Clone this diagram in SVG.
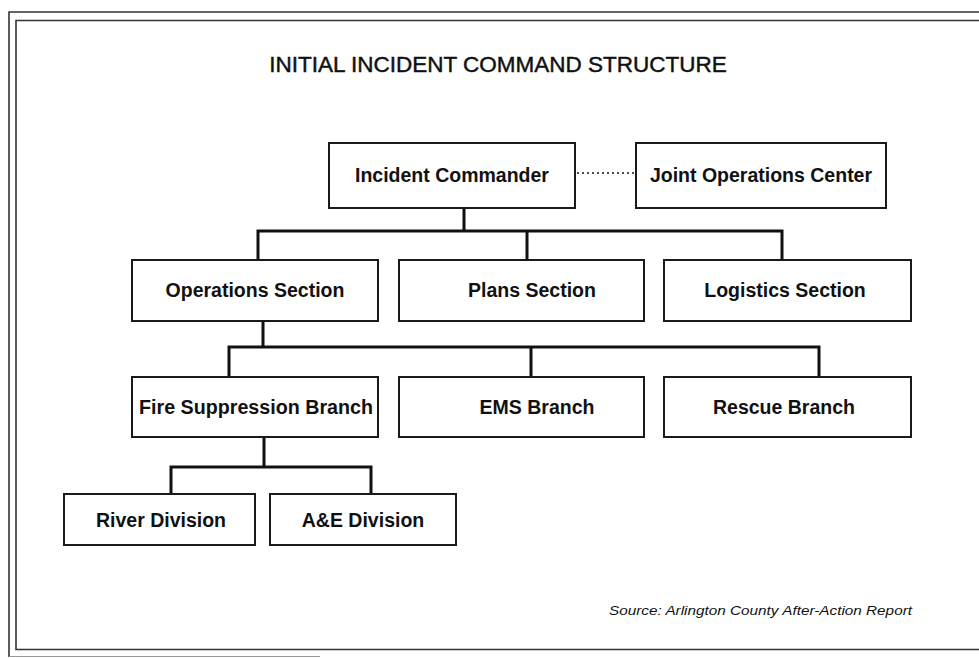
<svg xmlns="http://www.w3.org/2000/svg" width="979" height="658" viewBox="0 0 979 658">
<style>
.frame{fill:none;stroke:#333;stroke-width:1.6}
.box rect{fill:#fff;stroke:#1a1a1a;stroke-width:2}
.box text{font-family:"Liberation Sans",Arial,sans-serif;font-weight:bold;font-size:19.5px;fill:#111;text-anchor:middle}
.conn path{fill:none;stroke:#111;stroke-width:3}
.conn .dot{stroke-width:1.5;stroke-dasharray:2 3}
.title{font-family:"Liberation Sans",Arial,sans-serif;font-size:22.5px;fill:#111;text-anchor:middle;stroke:#111;stroke-width:0.45}
.src{font-family:"Liberation Sans",Arial,sans-serif;font-style:italic;font-size:12px;fill:#111}
</style>
<rect width="979" height="658" fill="#fff"/>
<g id="frame">
<path class="frame" d="M979,12 H9 V657"/>
<path d="M9,656.5 H320" stroke="#999" stroke-width="1.2" fill="none"/>
<path class="frame" d="M979,20.5 H16 V649.5 H979"/>
</g>
<text class="title" x="498" y="72">INITIAL INCIDENT COMMAND STRUCTURE</text>
<g id="connectors" class="conn">
<path class="dot" d="M577,173 H634"/>
<path d="M464,208 V231 M258,260 V231 H782 V260 M527,231 V260"/>
<path d="M263,321 V347 M229,377 V347 H819 V377 M531,347 V377"/>
<path d="M264,437 V467 M171,494 V467 H371 V494"/>
</g>
<g id="incident-commander" class="box"><rect x="329" y="143" width="246" height="65"/><text x="452" y="182">Incident Commander</text></g>
<g id="joint-operations-center" class="box"><rect x="636" y="143" width="250" height="65"/><text x="761" y="182">Joint Operations Center</text></g>
<g id="operations-section" class="box"><rect x="132" y="260" width="246" height="61"/><text x="255" y="297">Operations Section</text></g>
<g id="plans-section" class="box"><rect x="399" y="260" width="245" height="61"/><text x="532" y="297">Plans Section</text></g>
<g id="logistics-section" class="box"><rect x="664" y="260" width="247" height="61"/><text x="785" y="297">Logistics Section</text></g>
<g id="fire-suppression-branch" class="box"><rect x="132" y="377" width="246" height="60"/><text x="256" y="414" textLength="234" lengthAdjust="spacingAndGlyphs">Fire Suppression Branch</text></g>
<g id="ems-branch" class="box"><rect x="399" y="377" width="245" height="60"/><text x="537" y="414">EMS Branch</text></g>
<g id="rescue-branch" class="box"><rect x="664" y="377" width="247" height="60"/><text x="784" y="414">Rescue Branch</text></g>
<g id="river-division" class="box"><rect x="64" y="494" width="191" height="51"/><text x="161" y="527">River Division</text></g>
<g id="ae-division" class="box"><rect x="270" y="494" width="186" height="51"/><text x="363" y="527">A&amp;E Division</text></g>
<text class="src" x="609" y="615" textLength="303" lengthAdjust="spacingAndGlyphs">Source:  Arlington County After-Action Report</text>
</svg>
